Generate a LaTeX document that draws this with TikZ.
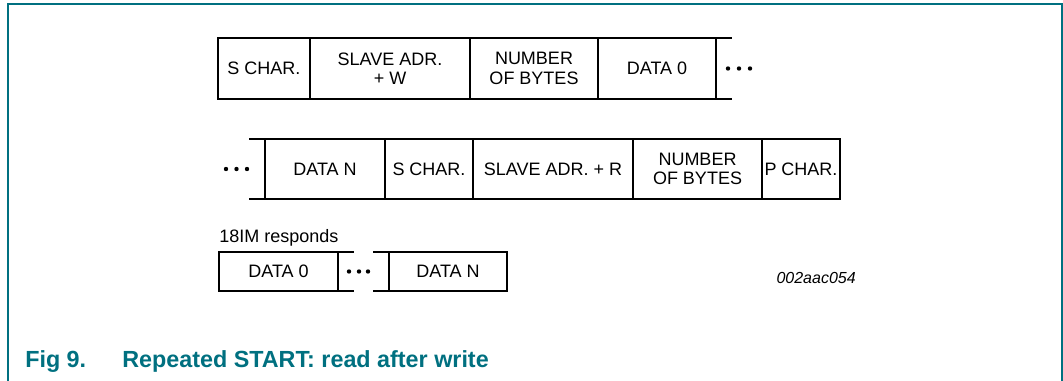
\documentclass[tikz,border=0pt]{standalone}
\usepackage{fontspec}
\setmainfont{Liberation Sans}
\definecolor{nxpteal}{RGB}{0,112,128}
\tikzset{
  field/.style={draw, rectangle, line width=1.8pt, inner sep=0pt, outer sep=0pt, align=center,
    font=\fontsize{13.5}{14.5}\selectfont},
  rail/.style={line width=1.8pt},
  label/.style={inner sep=0pt, font=\fontsize{13.5}{14.5}\selectfont}
}
\begin{document}
\begin{tikzpicture}[x=0.75pt, y=-0.75pt]
\useasboundingbox (0,0) rectangle (1063,381);

% frame
\draw[nxpteal, line width=1.5pt] (8,381) -- (8,4) -- (1062,4) -- (1062,381);

% first frame: write
\draw
(264,68.5) node[field, minimum width=69pt, minimum height=45.75pt](schar1){S CHAR.}
(390,68.5) node[field, minimum width=120pt, minimum height=45.75pt](slavew){SLAVE ADR.\\+ W}
(534,68.5) node[field, minimum width=96pt, minimum height=45.75pt](nbytes1){NUMBER\\OF BYTES}
(657,68.5) node[field, minimum width=88.5pt, minimum height=45.75pt](data0){DATA 0};

\coordinate (r1t) at (732,38);
\coordinate (r1b) at (732,99);
\draw[rail] (data0.north east) -- (r1t);
\draw[rail] (data0.south east) -- (r1b);
\fill (728,68.5) circle (2.2) (739,68.5) circle (2.2) (750,68.5) circle (2.2);

% second frame: read
\draw
(325,169) node[field, minimum width=90pt, minimum height=45pt](datan){DATA N}
(429,169) node[field, minimum width=66pt, minimum height=45pt](schar2){S CHAR.}
(553,169) node[field, minimum width=120pt, minimum height=45pt](slaver){SLAVE ADR. + R}
(697.5,169) node[field, minimum width=96.75pt, minimum height=45pt](nbytes2){NUMBER\\OF BYTES}
(801,169) node[field, minimum width=58.5pt, minimum height=45pt](pchar){P CHAR.};

\coordinate (r2t) at (249,139);
\coordinate (r2b) at (249,199);
\draw[rail] (r2t) -- (datan.north west);
\draw[rail] (r2b) -- (datan.south west);
\fill (226,169) circle (2.2) (236.5,169) circle (2.2) (247,169) circle (2.2);

% answer of 18IM
\node[label, anchor=base west] (resp) at (219,242) {18IM responds};
\draw
(278.5,271.5) node[field, minimum width=89.25pt, minimum height=29.25pt](data0r){DATA 0}
(448,271.5) node[field, minimum width=88.5pt, minimum height=29.25pt](datanr){DATA N};

\coordinate (r3a) at (354,252);
\coordinate (r3b) at (354,291);
\coordinate (r3c) at (373,252);
\coordinate (r3d) at (373,291);
\draw[rail] (data0r.north east) -- (r3a);
\draw[rail] (data0r.south east) -- (r3b);
\draw[rail] (r3c) -- (datanr.north west);
\draw[rail] (r3d) -- (datanr.south west);
\fill (349,271.5) circle (2.2) (359,271.5) circle (2.2) (368,271.5) circle (2.2);

\node[inner sep=0pt, anchor=base east, font=\fontsize{12}{14}\selectfont\itshape] (code) at (856,283) {002aac054};

% caption
\node[inner sep=0pt, anchor=base west, text=nxpteal, font=\fontsize{17.5}{19}\selectfont\bfseries] (fignum) at (25,367) {Fig 9.};
\node[inner sep=0pt, anchor=base west, text=nxpteal, font=\fontsize{17.5}{19}\selectfont\bfseries] (figtitle) at (122,367) {Repeated START: read after write};
\end{tikzpicture}
\end{document}
